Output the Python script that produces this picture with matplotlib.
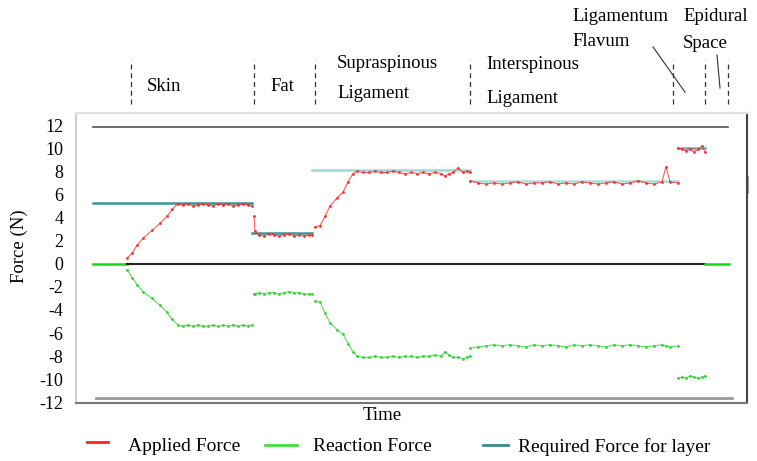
import matplotlib
matplotlib.use("Agg")
import matplotlib.pyplot as plt
from matplotlib.lines import Line2D

plt.rcParams['font.family'] = ['Liberation Serif', 'DejaVu Serif']
plt.rcParams['axes.unicode_minus'] = False

# ---- data (time in s, force in N) ----
skin_t = [3.4, 3.9, 4.4, 5.0, 5.9, 6.7, 7.4, 7.9, 8.5, 9.0, 9.5, 10.0, 10.5, 11.0,
          11.5, 12.0, 12.5, 13.0, 13.5, 14.0, 14.5, 15.0, 15.5, 15.9]
skin_applied = [0.5, 0.9, 1.6, 2.2, 2.9, 3.5, 4.1, 4.7, 5.2, 5.1, 5.2, 5.0, 5.1, 5.2,
                5.1, 5.0, 5.2, 5.1, 5.2, 5.0, 5.1, 5.2, 5.1, 5.0]
skin_reaction = [-0.5, -1.2, -1.8, -2.4, -3.0, -3.6, -4.2, -4.8, -5.3, -5.4, -5.3, -5.4,
                 -5.3, -5.4, -5.4, -5.3, -5.4, -5.3, -5.4, -5.3, -5.4, -5.3, -5.4, -5.3]

fat_t = [16.1, 16.2, 16.6, 17.1, 17.6, 18.1, 18.6, 19.1, 19.6, 20.1, 20.6, 21.1, 21.6, 21.9]
fat_applied = [4.1, 2.8, 2.5, 2.4, 2.6, 2.5, 2.4, 2.5, 2.6, 2.4, 2.5, 2.4, 2.5, 2.5]
fat_reaction = [-2.6, -2.6, -2.5, -2.6, -2.5, -2.5, -2.6, -2.5, -2.4, -2.5, -2.5, -2.6,
                -2.6, -2.6]

supra_t = [22.2, 22.7, 23.2, 23.7, 24.4, 25.0, 25.5, 26.0, 26.4, 27.0, 27.6, 28.2, 28.8,
           29.4, 30.0, 30.6, 31.2, 31.8, 32.4, 33.0, 33.6, 34.2, 34.8, 35.2, 35.6, 36.0,
           36.5, 37.0, 37.4, 37.7]
supra_applied = [3.2, 3.3, 4.1, 5.0, 5.7, 6.2, 7.1, 7.8, 8.0, 7.9, 7.9, 8.0, 7.9, 7.9,
                 8.0, 7.9, 7.8, 7.9, 7.8, 7.9, 7.8, 7.9, 7.8, 7.6, 7.8, 7.9, 8.3, 7.9,
                 8.0, 7.9]
supra_reaction = [-3.2, -3.3, -4.3, -5.1, -5.7, -6.1, -6.9, -7.6, -8.0, -8.1, -8.1, -8.0,
                  -8.1, -8.1, -8.0, -8.1, -8.0, -8.0, -8.1, -8.0, -8.0, -7.9, -8.0, -7.6,
                  -7.9, -8.1, -8.1, -8.2, -8.1, -8.0]

inter_t = [37.7, 38.5, 39.3, 40.1, 40.9, 41.7, 42.5, 43.3, 44.1, 44.9, 45.7, 46.5, 47.3,
           48.1, 48.9, 49.7, 50.5, 51.3, 52.1, 52.9, 53.7, 54.5, 55.3, 56.1, 56.9, 57.3,
           57.7, 58.5]
inter_applied = [7.2, 7.0, 6.9, 7.0, 6.9, 7.0, 7.1, 6.9, 7.0, 7.0, 7.1, 6.9, 7.0, 6.9,
                 7.1, 7.0, 6.9, 7.0, 7.1, 6.9, 7.0, 7.2, 7.0, 6.9, 7.1, 8.4, 7.1, 7.0]
inter_reaction = [-7.3, -7.2, -7.1, -7.0, -7.1, -7.0, -7.1, -7.2, -7.0, -7.1, -7.0, -7.1,
                  -7.2, -7.0, -7.1, -7.0, -7.1, -7.2, -7.0, -7.1, -7.0, -7.1, -7.2, -7.1,
                  -7.0, -7.1, -7.2, -7.1]

flav_t = [58.5, 58.9, 59.3, 59.7, 60.1, 60.5, 60.9, 61.2]
flav_applied = [10.0, 9.9, 9.8, 9.9, 9.7, 9.9, 10.2, 9.7]
flav_reaction = [-9.9, -9.8, -9.9, -9.7, -9.8, -9.9, -9.8, -9.7]

# required force per layer: (start, end, value, colour)
required = [
    (0.0, 15.9, 5.3, "#3b9396"),
    (15.9, 21.9, 2.7, "#3b9396"),
    (21.9, 37.7, 8.1, "#9fd8d8"),
    (37.7, 58.5, 7.2, "#a9dcdc"),
    (58.5, 61.2, 10.0, "#7fa0a0"),
]

# layer boundaries (dashed marks above the plot)
boundaries = [3.8, 16.1, 22.2, 37.7, 58.0, 61.2, 63.5]

fig = plt.figure(figsize=(7.57, 4.61), dpi=100)
ax = fig.add_axes([0.1004, 0.1258, 0.8864, 0.6291])

RED = "#ff2a2a"
GREEN = "#2fd42f"

segments = [(skin_t, skin_applied, skin_reaction),
            (fat_t, fat_applied, fat_reaction),
            (supra_t, supra_applied, supra_reaction),
            (inter_t, inter_applied, inter_reaction),
            (flav_t, flav_applied, flav_reaction)]

# limit lines
ax.plot([0.0, 63.5], [11.8, 11.8], color="#555555", linewidth=1.2)
ax.plot([0.3, 63.9], [-11.6, -11.6], color="#9a9a9a", linewidth=2)

# zero lines
ax.plot([0.0, 3.4], [0, 0], color="#11dd11", linewidth=1.8)
ax.plot([3.4, 61.2], [0, 0], color="#222222", linewidth=1.5)
ax.plot([61.2, 63.6], [0, 0], color="#11dd11", linewidth=1.8)

for t0, t1, val, col in required:
    ax.plot([t0, t1], [val, val], color=col, linewidth=1.8)

for t, fa, fr in segments:
    ax.plot(t, fa, color=RED, linewidth=0.7, marker=".", markersize=2.2, alpha=0.85)
    ax.plot(t, fr, color=GREEN, linewidth=0.7, marker=".", markersize=2.2, alpha=0.85)

# small mark on the right edge
ax.plot([1.0, 1.0], [6.2, 7.5], transform=ax.get_yaxis_transform(), color="#8090a8",
        linewidth=2, clip_on=False)

ax.set_xlim(-1.7, 65.4)
ax.set_ylim(-12.05, 13.05)
ax.set_yticks(range(-12, 13, 2))
ax.set_xticks([])
ax.tick_params(axis="y", length=0, pad=9, labelsize=13)
ax.set_xlabel("Time", fontsize=13.5)
ax.xaxis.set_label_coords(0.456, -0.015)
ax.set_ylabel("Force (N)", fontsize=13.5)
ax.yaxis.set_label_coords(-0.071, 0.54)

ax.spines["top"].set_color("#e2e2e2")
ax.spines["left"].set_color("#cfcfcf")
ax.spines["right"].set_color("#444444")
ax.spines["bottom"].set_color("#777777")
for s in ax.spines.values():
    s.set_linewidth(1.5)

# layer annotations above the plot
tr = ax.get_xaxis_transform()
ax.vlines(boundaries, 1.031, 1.183, transform=tr, colors="#333333", linewidth=0.9,
          linestyles=(0, (4, 3)), clip_on=False)
labels = [
    (5.4, 1.092, "Skin"),
    (17.7, 1.092, "Fat"),
    (24.4, 1.172, "Supraspinous"),
    (24.4, 1.068, "Ligament"),
    (39.3, 1.168, "Interspinous"),
    (39.3, 1.051, "Ligament"),
    (47.9, 1.334, "Ligamentum"),
    (47.9, 1.248, "Flavum"),
    (59.0, 1.334, "Epidural"),
    (59.0, 1.241, "Space"),
]
for x, y, s in labels:
    ax.text(x, y, s, transform=tr, fontsize=13.5, ha="left", va="center")
ax.plot([56.0, 59.2], [1.228, 1.072], transform=tr, color="#333333", linewidth=0.8,
        clip_on=False)
ax.plot([62.4, 62.7], [1.200, 1.086], transform=tr, color="#333333", linewidth=0.8,
        clip_on=False)

# legend laid out by hand (uneven gaps as in the original)
legend_items = [
    ("Applied Force", "#ff2222", 0.115, 0.143, 0.041, 0.169),
    ("Reaction Force", "#44dd44", 0.350, 0.392, 0.035, 0.413),
    ("Required Force for layer", "#3a8a8e", 0.638, 0.671, 0.035, 0.684),
]
ly = 0.031
for label, col, x0, x1, y_dash, xt in legend_items:
    fig.add_artist(Line2D([x0, x1], [y_dash, y_dash], color=col, linewidth=2))
    fig.text(xt, ly, label, fontsize=14, ha="left", va="center")

fig.savefig("out.png", dpi=100)
